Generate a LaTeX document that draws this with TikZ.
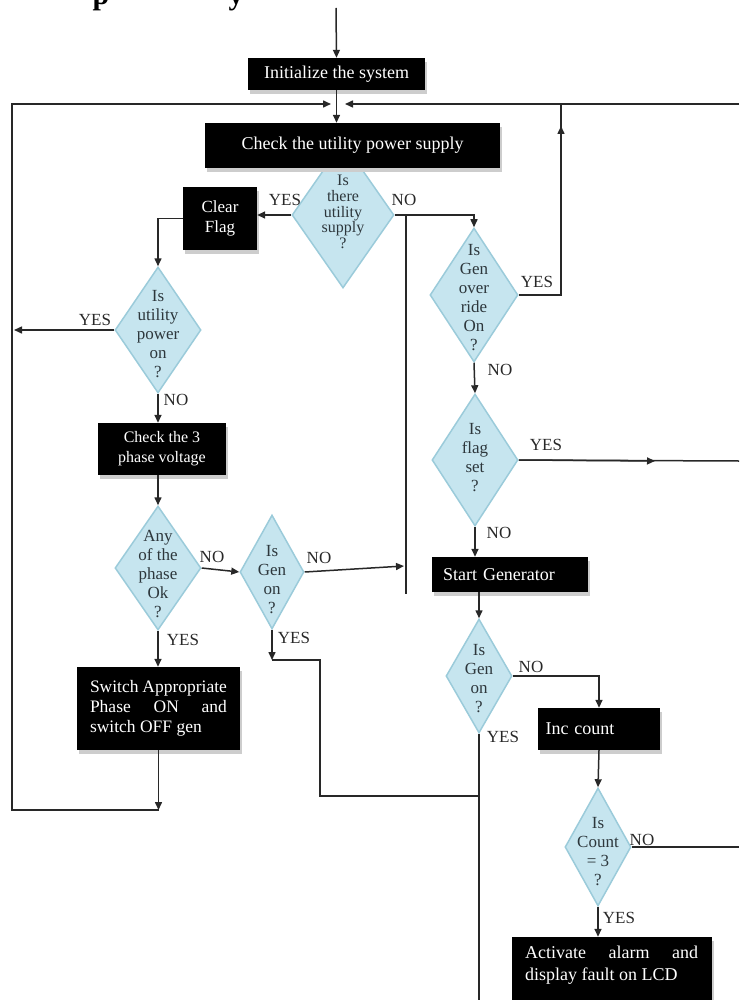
\documentclass[tikz,border=0pt]{standalone}
\usepackage{fontspec}
\setmainfont{Liberation Serif}
\usetikzlibrary{shapes.geometric,arrows.meta,shadows}
\definecolor{ln}{RGB}{40,40,40}
\definecolor{dfill}{RGB}{198,229,239}
\definecolor{dline}{RGB}{155,203,218}
\definecolor{shd}{RGB}{205,205,205}
\definecolor{dtx}{RGB}{45,55,60}
\begin{document}
\begin{tikzpicture}[x=1pt,y=-1pt,
  line/.style={draw=ln,line width=1.5pt},
  arr/.style={line,-{Triangle[length=8pt,width=7pt]}},
  blk/.style={rectangle,fill=black,text=white,inner sep=0pt,
    font=\fontsize{18}{20}\selectfont,
    drop shadow={shadow xshift=2pt,shadow yshift=-4pt,fill=shd,opacity=1}},
  dia/.style={diamond,fill=dfill,draw=dline,line width=1.5pt,inner sep=0pt},
  dtext/.style={align=center,text=dtx,inner sep=0pt,font=\fontsize{17}{19}\selectfont},
  lab/.style={inner sep=0pt,text=ln,font=\fontsize{17}{18}\selectfont}]
\useasboundingbox (0,0) rectangle (739,1000);

% clipped title fragments
\node[anchor=base,inner sep=0pt,font=\bfseries\fontsize{30}{32}\selectfont] (tp) at (101,5) {p};
\node[anchor=base,inner sep=0pt,font=\bfseries\fontsize{30}{32}\selectfont] (ty) at (236,5) {y};

% diamonds
\node[dia,minimum width=102pt,minimum height=146pt,
  label={[dtext,font=\fontsize{16}{15.7}\selectfont,yshift=3pt]center:{Is\\there\\utility\\supply\\?}}] (d1) at (343,215) {};
\node[dia,minimum width=86pt,minimum height=126pt,
  label={[dtext,yshift=-4pt]center:{Is\\utility\\power\\on\\?}}] (d2) at (158,330) {};
\node[dia,minimum width=86pt,minimum height=124pt,
  label={[dtext,yshift=-6pt]center:{Any\\of the\\phase\\Ok\\?}}] (d3) at (158,568) {};
\node[dia,minimum width=64pt,minimum height=114pt,
  label={[dtext,yshift=-8pt]center:{Is\\Gen\\on\\?}}] (d4) at (272,572) {};
\node[dia,minimum width=88pt,minimum height=134pt,
  label={[dtext,yshift=-3pt]center:{Is\\Gen\\over\\ride\\On\\?}}] (d5) at (474,295) {};
\node[dia,minimum width=86pt,minimum height=132pt,
  label={[dtext,yshift=2pt]center:{Is\\flag\\set\\?}}] (d6) at (475,460) {};
\node[dia,minimum width=66pt,minimum height=114pt,
  label={[dtext,yshift=-3pt]center:{Is\\Gen\\on\\?}}] (d7) at (479,676) {};
\node[dia,minimum width=66pt,minimum height=118pt,
  label={[dtext,yshift=-5pt]center:{Is\\Count\\= 3\\?}}] (d8) at (598,847) {};

% boxes
\node[blk,minimum width=177pt,minimum height=32pt] (init) at (336.5,74) {Initialize the system};
\node[blk,minimum width=295pt,minimum height=45pt] (check) at (352.5,145.5) {Check the utility power supply};
\node[blk,minimum width=74pt,minimum height=63pt,align=center,font=\fontsize{17}{20}\selectfont] (clear) at (220,218.5) {Clear\\Flag};
\node[blk,minimum width=128pt,minimum height=52pt,align=center,font=\fontsize{16}{20}\selectfont] (check3) at (162,449) {Check the 3\\phase voltage};
\node[blk,minimum width=163pt,minimum height=83pt,text width=137pt,align=justify,font=\fontsize{17.5}{20}\selectfont] (sw) at (158.5,708.5) {Switch Appropriate\linebreak Phase ON and\linebreak switch OFF gen};
\node[blk,minimum width=156pt,minimum height=35pt,text width=134pt,align=left] (start) at (510,574.5) {Start Generator};
\node[blk,minimum width=122pt,minimum height=42pt,text width=107pt,align=left] (inc) at (599,729) {Inc count};
\node[blk,minimum width=200pt,minimum height=75pt] (act) at (612,974.5) {};
\node[anchor=north west,inner sep=0pt,text=white,text width=173pt,align=justify,font=\fontsize{18}{22}\selectfont] (acttext) at (525,946) {Activate alarm and\linebreak display fault on LCD};

% coordinates
\coordinate (top) at (336,8);
\coordinate (swend) at (158.5,810);
\coordinate (lcorner) at (12,810);
\coordinate (ltop) at (12,104);
\coordinate (lin) at (331,104);
\coordinate (rstart) at (739,104);
\coordinate (rin) at (345,104);
\coordinate (vr) at (561,295);
\coordinate (vrtop) at (561,104);
\coordinate (vmidA) at (561,150);
\coordinate (vmidB) at (561,126);
\coordinate (vtop) at (406,215);
\coordinate (vbot) at (406,594);
\coordinate (vhit) at (404,566);
\coordinate (d2out) at (14,330);
\coordinate (g1) at (272,660);
\coordinate (g2) at (320,660);
\coordinate (g3) at (320,796);
\coordinate (g4) at (479,796);
\coordinate (fr) at (739,461);
\coordinate (fmid) at (655,461);
\coordinate (bot) at (479,1000);
\coordinate (cr) at (739,847);
\coordinate (nc) at (599,676);

% connectors
\draw[arr] (top) -- (init.north);
\draw[arr] (init.south) -- (init.south |- check.north);
\draw[arr] (sw.south) -- (swend);
\draw[arr] (swend) -- (lcorner) -- (ltop) -- (lin);
\draw[arr] (rstart) -- (rin);
\draw[line] (d5.east) -- (vr) -- (vrtop);
\draw[arr] (vmidA) -- (vmidB);
\draw[arr] (d1.west) -- (d1.west -| clear.east);
\draw[arr] (d1.east) -- (d1.east -| d5.north) -- (d5.north);
\draw[line] (vtop) -- (vbot);
\draw[arr] (clear.west) -- (clear.west -| d2.north) -- (d2.north);
\draw[arr] (d2.west) -- (d2out);
\draw[arr] (d2.south) -- (d2.south |- check3.north);
\draw[arr] (d3.north |- check3.south) -- (d3.north);
\draw[arr] (d3.south) -- (d3.south |- sw.north);
\draw[arr] (d3.east) -- (d4.west);
\draw[arr] (d4.east) -- (vhit);
\draw[arr] (d4.south) -- (g1);
\draw[line] (g1) -- (g2) -- (g3) -- (g4);
\draw[arr] (d5.south) -- (d6.north);
\draw[line] (d6.east) -- (fr);
\draw[arr] (d6.east) -- (fmid);
\draw[arr] (d6.south) -- (d6.south |- start.north);
\draw[arr] (start.south -| d7.north) -- (d7.north);
\draw[arr] (d7.east) -- (nc) -- (inc.north);
\draw[line] (d7.south) -- (bot);
\draw[arr] (inc.south) -- (d8.north);
\draw[line] (d8.east) -- (cr);
\draw[arr] (d8.south) -- (d8.south |- act.north);

% labels
\node[lab] (y1) at (285,200) {YES};
\node[lab] (n1) at (404,200) {NO};
\node[lab] (y2) at (95,320) {YES};
\node[lab] (n2) at (176,400) {NO};
\node[lab] (n3) at (212,557) {NO};
\node[lab] (y3) at (183,640) {YES};
\node[lab] (n4) at (319,558) {NO};
\node[lab] (y4) at (294,638) {YES};
\node[lab] (y5) at (537,282) {YES};
\node[lab] (n5) at (500,370) {NO};
\node[lab] (y6) at (546,445) {YES};
\node[lab] (n6) at (499,533) {NO};
\node[lab] (n7) at (531,667) {NO};
\node[lab] (y7) at (503,737) {YES};
\node[lab] (n8) at (642,840) {NO};
\node[lab] (y8) at (619,918) {YES};
\end{tikzpicture}
\end{document}
